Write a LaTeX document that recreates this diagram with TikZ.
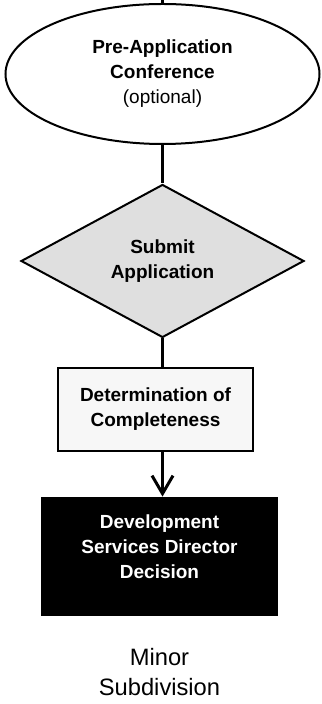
\documentclass[tikz,border=0pt]{standalone}
\usepackage{fontspec}
\setmainfont{Liberation Sans}
\usetikzlibrary{shapes.geometric, arrows.meta, positioning}

\begin{document}
\begin{tikzpicture}[every node/.style={font=\fontsize{9.5}{12.5}\selectfont\bfseries, align=center},
  flow/.style={line width=1.5pt}]
\useasboundingbox (0,0) rectangle (160.5pt,-352pt);
\node (conf) at (81.25pt,-37pt) [draw, ellipse, line width=1pt, inner sep=0pt, minimum width=157pt, minimum height=70pt] {Pre-Application\\Conference\\{\mdseries (optional)}};
\node (submit) [below of=conf, node distance=93.5pt, draw, diamond, line width=1pt, inner sep=0pt, aspect=2, minimum width=141.5pt, minimum height=76.5pt, fill=gray!25] {Submit\\Application};
\node (det) [below of=submit, node distance=74.25pt, xshift=-3.5pt, draw, line width=1.1pt, minimum width=97.5pt, minimum height=41.5pt, fill=gray!6] {Determination of\\Completeness};
\node (dsd) [below of=det, node distance=73.5pt, xshift=2pt, fill=black, text=white, minimum width=118.8pt, minimum height=59.5pt, text depth=9.5pt] {Development\\Services Director\\Decision};
\node (type) [below of=dsd, node distance=57.75pt, font=\fontsize{11.85}{15}\selectfont] {Minor\\Subdivision};
\coordinate (entry) at (conf.north |- 0,0);

\draw[flow] (entry) -- (conf);
\draw[flow] (conf) -- (submit);
\draw[flow] (submit) -- (det.north -| submit.south);
\draw[flow, -{Straight Barb[length=9pt, width=10.5pt]}] (det.south -| submit.south) -- (dsd.north -| submit.south);
\end{tikzpicture}
\end{document}
